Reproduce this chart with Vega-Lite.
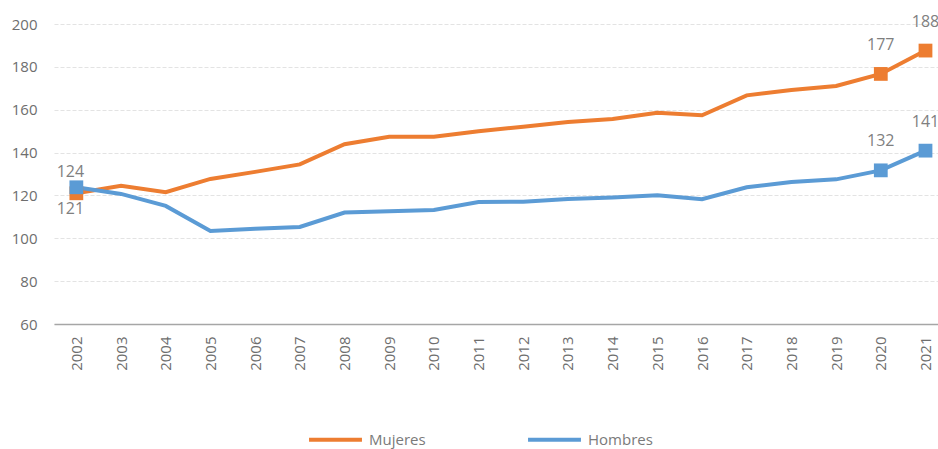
{
  "$schema": "https://vega.github.io/schema/vega-lite/v6.json",
  "width": 884,
  "height": 300,
  "autosize": {"type": "none"},
  "padding": {"left": 54, "top": 24, "right": 0, "bottom": 125},
  "background": "white",
  "config": {
    "font": "Open Sans",
    "view": {"stroke": null},
    "axis": {"labelFont": "Open Sans", "labelFontSize": 15, "labelColor": "#6e6e6e", "ticks": false, "title": null}
  },
  "data": {
    "values": [
      {"year": 2002, "serie": "Mujeres", "value": 121},
      {"year": 2003, "serie": "Mujeres", "value": 124.5},
      {"year": 2004, "serie": "Mujeres", "value": 121.5},
      {"year": 2005, "serie": "Mujeres", "value": 127.7},
      {"year": 2006, "serie": "Mujeres", "value": 131},
      {"year": 2007, "serie": "Mujeres", "value": 134.5},
      {"year": 2008, "serie": "Mujeres", "value": 143.9},
      {"year": 2009, "serie": "Mujeres", "value": 147.4},
      {"year": 2010, "serie": "Mujeres", "value": 147.4},
      {"year": 2011, "serie": "Mujeres", "value": 150},
      {"year": 2012, "serie": "Mujeres", "value": 152.1},
      {"year": 2013, "serie": "Mujeres", "value": 154.3},
      {"year": 2014, "serie": "Mujeres", "value": 155.7},
      {"year": 2015, "serie": "Mujeres", "value": 158.6},
      {"year": 2016, "serie": "Mujeres", "value": 157.4},
      {"year": 2017, "serie": "Mujeres", "value": 166.7},
      {"year": 2018, "serie": "Mujeres", "value": 169.2},
      {"year": 2019, "serie": "Mujeres", "value": 171.1},
      {"year": 2020, "serie": "Mujeres", "value": 176.7},
      {"year": 2021, "serie": "Mujeres", "value": 187.6},
      {"year": 2002, "serie": "Hombres", "value": 123.8},
      {"year": 2003, "serie": "Hombres", "value": 120.7},
      {"year": 2004, "serie": "Hombres", "value": 115.1},
      {"year": 2005, "serie": "Hombres", "value": 103.4},
      {"year": 2006, "serie": "Hombres", "value": 104.5},
      {"year": 2007, "serie": "Hombres", "value": 105.3},
      {"year": 2008, "serie": "Hombres", "value": 112},
      {"year": 2009, "serie": "Hombres", "value": 112.6},
      {"year": 2010, "serie": "Hombres", "value": 113.2},
      {"year": 2011, "serie": "Hombres", "value": 116.9},
      {"year": 2012, "serie": "Hombres", "value": 117.1},
      {"year": 2013, "serie": "Hombres", "value": 118.3},
      {"year": 2014, "serie": "Hombres", "value": 119},
      {"year": 2015, "serie": "Hombres", "value": 120.1},
      {"year": 2016, "serie": "Hombres", "value": 118.2},
      {"year": 2017, "serie": "Hombres", "value": 123.8},
      {"year": 2018, "serie": "Hombres", "value": 126.3},
      {"year": 2019, "serie": "Hombres", "value": 127.5},
      {"year": 2020, "serie": "Hombres", "value": 131.7},
      {"year": 2021, "serie": "Hombres", "value": 140.9}
    ]
  },
  "encoding": {
    "x": {
      "field": "year", "type": "quantitative",
      "scale": {"domain": [2001.5, 2021.28], "nice": false, "zero": false},
      "axis": {
        "values": [2002,2003,2004,2005,2006,2007,2008,2009,2010,2011,2012,2013,2014,2015,2016,2017,2018,2019,2020,2021],
        "format": "d", "labelAngle": -90, "labelFlush": false, "labelOverlap": false, "labelBound": false,
        "grid": false, "domainColor": "#a6a6a6", "domainWidth": 1.5, "labelPadding": 12
      }
    },
    "y": {
      "field": "value", "type": "quantitative",
      "scale": {"domain": [60, 200], "nice": false, "zero": false},
      "axis": {
        "values": [60, 80, 100, 120, 140, 160, 180, 200],
        "domain": false, "grid": true, "gridColor": "#e3e3e3", "gridDash": [4, 2], "gridWidth": 1,
        "labelPadding": 17
      }
    },
    "color": {
      "field": "serie", "type": "nominal",
      "scale": {"domain": ["Mujeres", "Hombres"], "range": ["#ED7D31", "#5B9BD5"]},
      "legend": {
        "title": null, "orient": "none", "direction": "horizontal",
        "legendX": 253, "legendY": 387,
        "symbolType": "stroke", "symbolSize": 2800, "symbolStrokeWidth": 4,
        "labelFontSize": 15, "labelColor": "#7a7a7a", "labelOffset": 5,
        "columnPadding": 94
      }
    }
  },
  "layer": [
    {"mark": {"type": "line", "strokeWidth": 4}},
    {
      "transform": [{"filter": "datum.year == 2002 || datum.year >= 2020"}],
      "mark": {"type": "point", "shape": "square", "filled": true, "size": 190, "opacity": 1}
    },
    {
      "transform": [{"filter": "datum.year >= 2020"}],
      "mark": {"type": "text", "dy": -29, "fontSize": 16, "color": "#7f7f7f"},
      "encoding": {"text": {"field": "value", "format": ".0f"}, "color": {"value": "#7f7f7f"}}
    },
    {
      "transform": [{"filter": "datum.year == 2002 && datum.serie == 'Hombres'"}],
      "mark": {"type": "text", "dy": -15, "dx": -6, "fontSize": 16, "color": "#7f7f7f"},
      "encoding": {"text": {"field": "value", "format": ".0f"}, "color": {"value": "#7f7f7f"}}
    },
    {
      "transform": [{"filter": "datum.year == 2002 && datum.serie == 'Mujeres'"}],
      "mark": {"type": "text", "dy": 16, "dx": -6, "fontSize": 16, "color": "#7f7f7f"},
      "encoding": {"text": {"field": "value", "format": ".0f"}, "color": {"value": "#7f7f7f"}}
    }
  ]
}
